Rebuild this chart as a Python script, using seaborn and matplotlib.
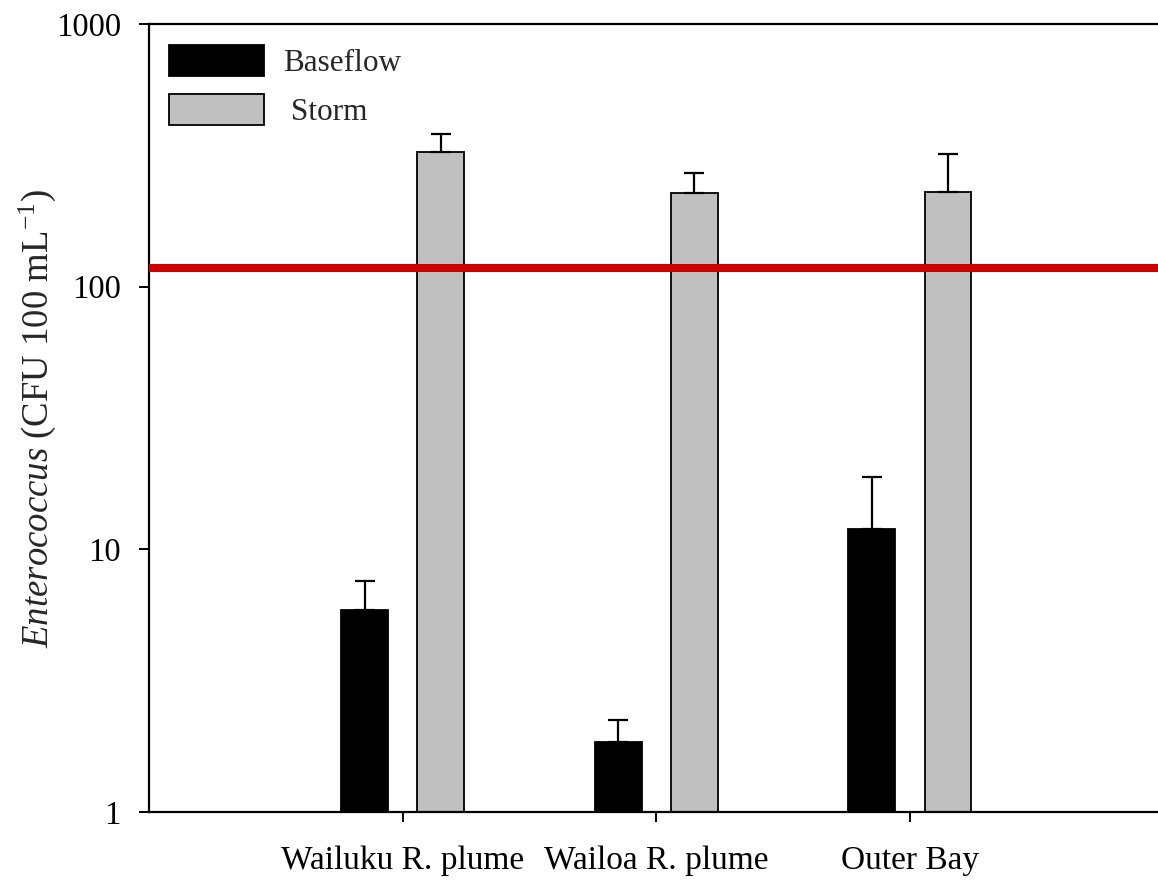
import matplotlib
matplotlib.use("Agg")
import matplotlib.pyplot as plt
from matplotlib.ticker import NullLocator
import seaborn as sns
import pandas as pd

# Enterococcus concentrations (geometric means with upper standard errors)
sites = ["Wailuku R. plume", "Wailoa R. plume", "Outer Bay"]
conditions = ["Baseflow", " Storm"]
baseflow = [5.9, 1.85, 11.9]
baseflow_err = [1.7, 0.39, 7.0]
storm = [326, 228, 230]
storm_err = [55, 44, 90]
threshold = 118
yticks = [1, 10, 100, 1000]
ytick_labels = ["1", "10", "100", "1000"]

sns.set_theme(style="ticks")
plt.rcParams["font.family"] = ["Liberation Serif", "DejaVu Serif"]
plt.rcParams["mathtext.fontset"] = "custom"
plt.rcParams["mathtext.rm"] = "Liberation Serif"
plt.rcParams["mathtext.it"] = "Liberation Serif:italic"

W, H = 1158, 884
fig = plt.figure(figsize=(W / 100, H / 100), dpi=100)
ax = fig.add_axes([149 / W, 72 / H, 1014.5 / W, 788 / H])

df = pd.DataFrame({
    "site": sites * 2,
    "flow": [conditions[0]] * len(sites) + [conditions[1]] * len(sites),
    "value": baseflow + storm,
})

sns.barplot(data=df, x="site", y="value", hue="flow",
            palette=["black", "#c0c0c0"], width=0.6, gap=0.385,
            edgecolor="black", linewidth=1.3, errorbar=None,
            log_scale=True, ax=ax, zorder=2)

# upper error bars on each bar
for container, errs in zip(ax.containers, [baseflow_err, storm_err]):
    xs, ys = [], []
    for bar in container:
        xs.append(bar.get_x() + bar.get_width() / 2)
        ys.append(bar.get_y() + bar.get_height())
    ax.errorbar(xs, ys, yerr=[[0] * len(errs), errs], fmt="none",
                ecolor="black", elinewidth=1.6, capsize=7.2, capthick=1.6,
                zorder=3)

# recreational water quality threshold
ax.axhline(threshold, color="#cc0000", lw=5.8, zorder=4)

ax.set_yscale("log")
ax.set_ylim(1, 1000)
ax.set_xlim(-1, 3)
ax.set_yticks(yticks)
ax.set_yticklabels(ytick_labels)
ax.yaxis.set_minor_locator(NullLocator())
ax.set_xlabel("")
ax.set_ylabel(r"$\mathit{Enterococcus}$ (CFU 100 mL$^{-1}$)", fontsize=26.5)
ax.yaxis.set_label_coords(-0.09, 0.5)

for s in ax.spines.values():
    s.set_linewidth(1.6)
    s.set_color("black")
ax.tick_params(axis="both", direction="out", length=7.2, width=1.4,
               colors="black")
ax.tick_params(axis="y", pad=13, labelsize=23.5)
ax.tick_params(axis="x", pad=17, labelsize=24)

handles, labels = ax.get_legend_handles_labels()
ax.legend(handles, labels, loc="upper left",
          bbox_to_anchor=(169 / W, 1 - 45 / H), bbox_transform=fig.transFigure,
          frameon=False, fontsize=22.5, handlelength=3.05, handleheight=1.15,
          handletextpad=0.6, labelspacing=0.5, borderpad=0, borderaxespad=0)

fig.savefig("out.png", dpi=100, facecolor="white")
